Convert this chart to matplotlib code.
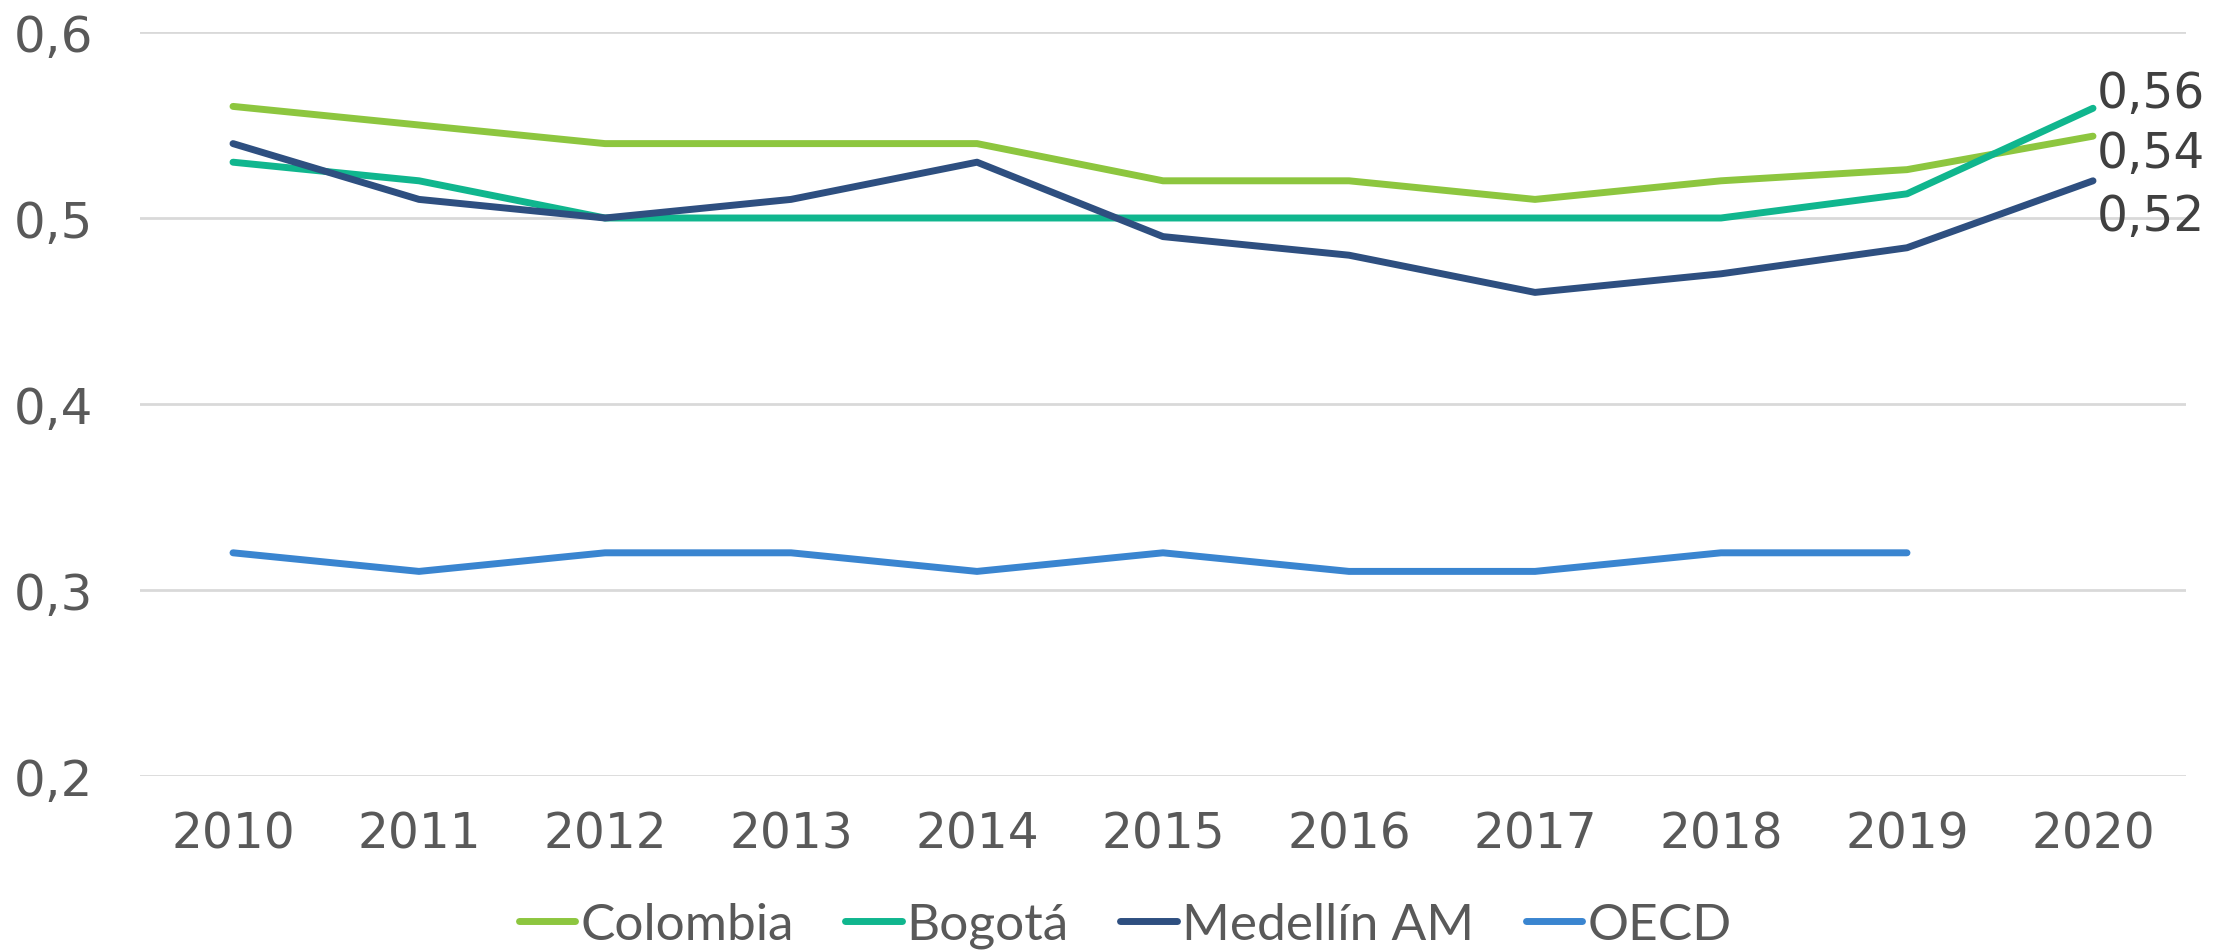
import matplotlib.pyplot as plt

years = [2010, 2011, 2012, 2013, 2014, 2015, 2016, 2017, 2018, 2019, 2020]
colombia = [0.56, 0.55, 0.54, 0.54, 0.54, 0.52, 0.52, 0.51, 0.52, 0.526, 0.544]
bogota = [0.53, 0.52, 0.50, 0.50, 0.50, 0.50, 0.50, 0.50, 0.50, 0.513, 0.559]
medellin = [0.54, 0.51, 0.50, 0.51, 0.53, 0.49, 0.48, 0.46, 0.47, 0.484, 0.52]
oecd = [0.32, 0.31, 0.32, 0.32, 0.31, 0.32, 0.31, 0.31, 0.32, 0.32]
end_labels = ["0,56", "0,54", "0,52"]

series = [
    ("Colombia", colombia, "#8DC63F"),
    ("Bogotá", bogota, "#10B68E"),
    ("Medellín AM", medellin, "#2E4F80"),
    ("OECD", oecd, "#3A85D0"),
]

fig = plt.figure(figsize=(22.14, 9.53), dpi=100)
ax = fig.add_axes([140 / 2214, 1 - 777 / 953, (2186 - 140) / 2214, (777 - 33) / 953])

x = list(range(len(years)))
for name, vals, color in series:
    ax.plot(x[:len(vals)], vals, color=color, lw=5, solid_capstyle="round", label=name)

ax.set_xlim(-0.5, len(years) - 0.5)
ax.set_ylim(0.2, 0.6)
ax.set_yticks([0.2, 0.3, 0.4, 0.5, 0.6])
ax.set_yticklabels(["0,2", "0,3", "0,4", "0,5", "0,6"], fontsize=36, color="#595959", family="DejaVu Sans")
ax.set_xticks(x)
ax.set_xticklabels([str(y) for y in years], fontsize=35, color="#595959", family="DejaVu Sans")
ax.tick_params(length=0)
ax.tick_params(axis="y", pad=34)
ax.tick_params(axis="x", pad=24)
ax.grid(axis="y", color="#D9D9D9", lw=2)
ax.set_axisbelow(True)
for s in ax.spines.values():
    s.set_visible(False)

# end-of-line value labels (Bogotá, Colombia, Medellín AM)
label_y = [bogota[-1], colombia[-1], medellin[-1]]
label_off = [0.011, -0.0064, -0.016]
for txt, yv, off in zip(end_labels, label_y, label_off):
    ax.text(x[-1] + 0.02, yv + off, txt, fontsize=35, color="#404040",
            va="center_baseline", ha="left", family="DejaVu Sans", clip_on=False)

fig.legend(loc="center", bbox_to_anchor=(1125 / 2214, 1 - 926 / 953), ncol=4, frameon=False,
           prop={"family": "Lato", "size": 37}, handlelength=1.1, handletextpad=0.1,
           columnspacing=1.0, labelcolor="#595959")

fig.savefig("out.png", dpi=100)
